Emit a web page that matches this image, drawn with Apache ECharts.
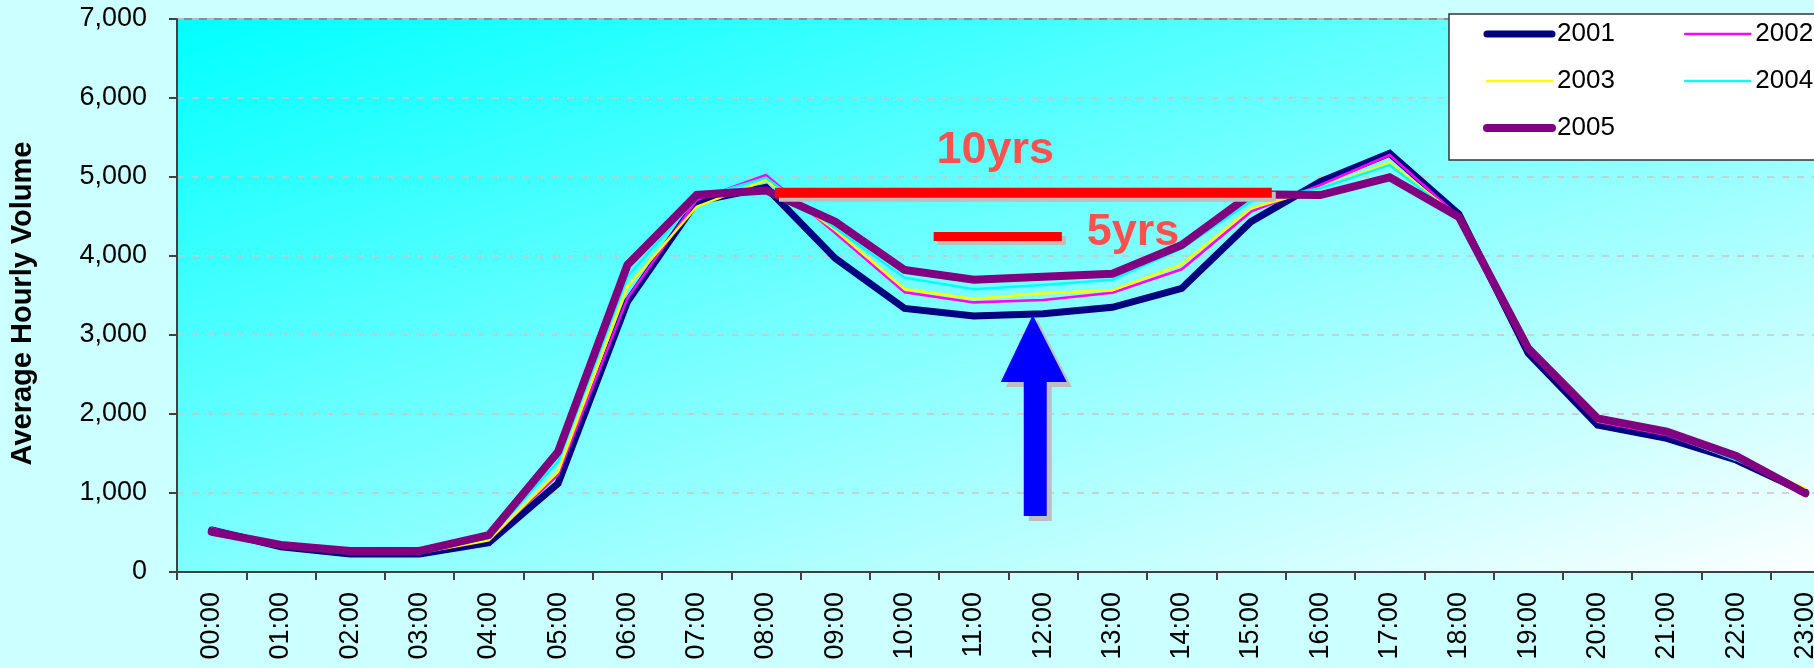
<!DOCTYPE html>
<html><head><meta charset="utf-8">
<script src="https://cdn.jsdelivr.net/npm/echarts@6/dist/echarts.min.js"></script>
<style>html,body{margin:0;padding:0;background:#CCFFFF;} #c{width:1814px;height:668px;}</style>
</head><body><div id="c"></div>
<script>
// ---- data ----
const hours = ['00:00','01:00','02:00','03:00','04:00','05:00','06:00','07:00','08:00','09:00','10:00','11:00',
               '12:00','13:00','14:00','15:00','16:00','17:00','18:00','19:00','20:00','21:00','22:00','23:00'];
const years = ['2001','2002','2003','2004','2005'];
const v2001 = [532,320,228,228,371,1122,3422,4688,4870,3970,3337,3240,3270,3350,3591,4435,4940,5300,4530,2768,1861,1692,1418,1010];
const v2002 = [553,330,245,245,414,1228,3464,4709,5025,4290,3540,3413,3443,3536,3832,4561,4899,5278,4500,2790,1900,1734,1430,1020];
const v2003 = [520,325,240,240,400,1270,3611,4624,4960,4330,3582,3456,3528,3565,3895,4603,4858,5181,4490,2800,1910,1745,1430,1059];
const v2004 = [515,330,250,250,430,1397,3738,4730,4990,4350,3726,3578,3633,3700,4097,4690,4858,5150,4480,2800,1920,1750,1418,1030];
const v2005 = [510,342,266,266,468,1523,3886,4772,4830,4435,3823,3700,3738,3775,4139,4780,4772,4996,4494,2831,1945,1776,1468,996];
const yMin = 0, yMax = 7000, yStep = 1000;
const yTitle = 'Average Hourly Volume';

// ---- annotations (in category-index / value space) ----
const tenLine  = {from: 8.13, to: 15.3, value: 4800};
const fiveLine = {from: 10.42, to: 12.27, value: 4247};
const tenLabel = {at: 10.46, value: 5335, text: '10yrs'};
const fiveLabel = {at: 12.63, value: 4290, text: '5yrs'};
const arrow = {at: 11.85, tip: 3253, headBase: 2405, tail: 709};

const FONT = '"Liberation Sans", Arial, sans-serif';
const chart = echarts.init(document.getElementById('c'), null, {renderer: 'canvas'});

const seriesDefs = [
  {name: '2001', data: v2001, color: '#000080', width: 7},
  {name: '2002', data: v2002, color: '#FF00FF', width: 2.5},
  {name: '2003', data: v2003, color: '#FFFF00', width: 2.5},
  {name: '2004', data: v2004, color: '#00FFFF', width: 2.5},
  {name: '2005', data: v2005, color: '#800080', width: 8}
];

const legendCommon = {
  orient: 'vertical', itemWidth: 65, itemHeight: 30, itemGap: 17, selectedMode: false,
  itemStyle: {opacity: 0},
  lineStyle: {width: 'inherit', cap: 'round'},
  textStyle: {fontSize: 26, fontFamily: FONT, color: '#000', lineHeight: 30}
};

chart.setOption({
  backgroundColor: '#CCFFFF',
  animation: false,
  grid: {
    left: 177, top: 19, bottom: 96, right: -26, outerBoundsMode: 'none', containLabel: false,
    show: true, borderColor: '#8C8C8C', borderWidth: 2,
    backgroundColor: new echarts.graphic.LinearGradient(0, 0, 0.199, 1.801, [
      {offset: 0, color: '#00FFFF'}, {offset: 1, color: '#FFFFFF'}
    ])
  },
  legend: [
    Object.assign({}, legendCommon, {
      data: [years[0], years[2], years[4]], left: 1449, top: 14, padding: [5, 260, 17, 34],
      backgroundColor: '#FFFFFF', borderColor: '#333333', borderWidth: 1.5, z: 4
    }),
    Object.assign({}, legendCommon, {
      data: [years[1], years[3]], left: 1684, top: 19, padding: 0, z: 6
    })
  ],
  xAxis: {
    type: 'category', data: hours, boundaryGap: true,
    axisLine: {lineStyle: {color: '#404040', width: 2}},
    axisTick: {show: true, length: 8, lineStyle: {color: '#404040', width: 2}},
    axisLabel: {interval: 0, rotate: 90, margin: 20, fontSize: 27, fontFamily: FONT, color: '#000'},
    splitLine: {show: false}
  },
  yAxis: {
    type: 'value', min: yMin, max: yMax, interval: yStep,
    name: yTitle, nameLocation: 'middle', nameGap: 140, nameRotate: 90,
    nameTextStyle: {fontSize: 29, fontWeight: 'bold', fontFamily: FONT, color: '#000', padding: [0, 16, 0, 0]},
    axisLine: {show: true, lineStyle: {color: '#404040', width: 2}},
    axisTick: {show: true, length: 8, lineStyle: {color: '#404040', width: 2}},
    axisLabel: {margin: 30, fontSize: 27, fontFamily: FONT, color: '#000',
      formatter: v => v.toLocaleString('en-US')},
    splitLine: {show: true, lineStyle: {color: '#C8C8C8', width: 1.5, type: [7, 8]}}
  },
  series: seriesDefs.map((s, i) => ({
    name: s.name, type: 'line', data: s.data, symbol: 'none', showSymbol: false, z: 2 + i * 0.01,
    itemStyle: {color: s.color},
    lineStyle: {color: s.color, width: s.width, cap: 'round', join: 'miter'}
  }))
});

// annotations positioned through the axes
const x0 = chart.convertToPixel({xAxisIndex: 0}, 0);
const x1 = chart.convertToPixel({xAxisIndex: 0}, 1);
const X = i => x0 + i * (x1 - x0);
const Y = v => chart.convertToPixel({yAxisIndex: 0}, v);

const SH = {shadowColor: '#BEBEBE', shadowBlur: 0};
const ay = Y(arrow.tip), ab = Y(arrow.headBase), at = Y(arrow.tail), ax = X(arrow.at);
const labelStyle = t => ({text: t, fill: '#FF5050', font: 'bold 45px ' + FONT, verticalAlign: 'middle', align: 'left',
  textShadowColor: '#BEBEBE', textShadowOffsetX: 5, textShadowOffsetY: 5, textShadowBlur: 0});
chart.setOption({
  graphic: [
    {type: 'rect', z: 50, shape: {x: X(tenLine.from), y: Y(tenLine.value) - 5, width: X(tenLine.to) - X(tenLine.from), height: 10},
     style: Object.assign({fill: '#FF0000', shadowOffsetX: 4, shadowOffsetY: 4}, SH)},
    {type: 'rect', z: 50, shape: {x: X(fiveLine.from), y: Y(fiveLine.value) - 4.5, width: X(fiveLine.to) - X(fiveLine.from), height: 9},
     style: Object.assign({fill: '#FF0000', shadowOffsetX: 4, shadowOffsetY: 4}, SH)},
    {type: 'text', z: 50, x: X(tenLabel.at), y: Y(tenLabel.value), style: labelStyle(tenLabel.text)},
    {type: 'text', z: 50, x: X(fiveLabel.at), y: Y(fiveLabel.value), style: labelStyle(fiveLabel.text)},
    {type: 'polygon', z: 50, shape: {points: [
       [ax, ay], [ax + 34, ab], [ax + 14, ab], [ax + 14, at], [ax - 9, at], [ax - 9, ab], [ax - 32, ab]
     ]}, style: Object.assign({fill: '#0000FF', shadowOffsetX: 5, shadowOffsetY: 5}, SH)}
  ]
});
</script></body></html>
